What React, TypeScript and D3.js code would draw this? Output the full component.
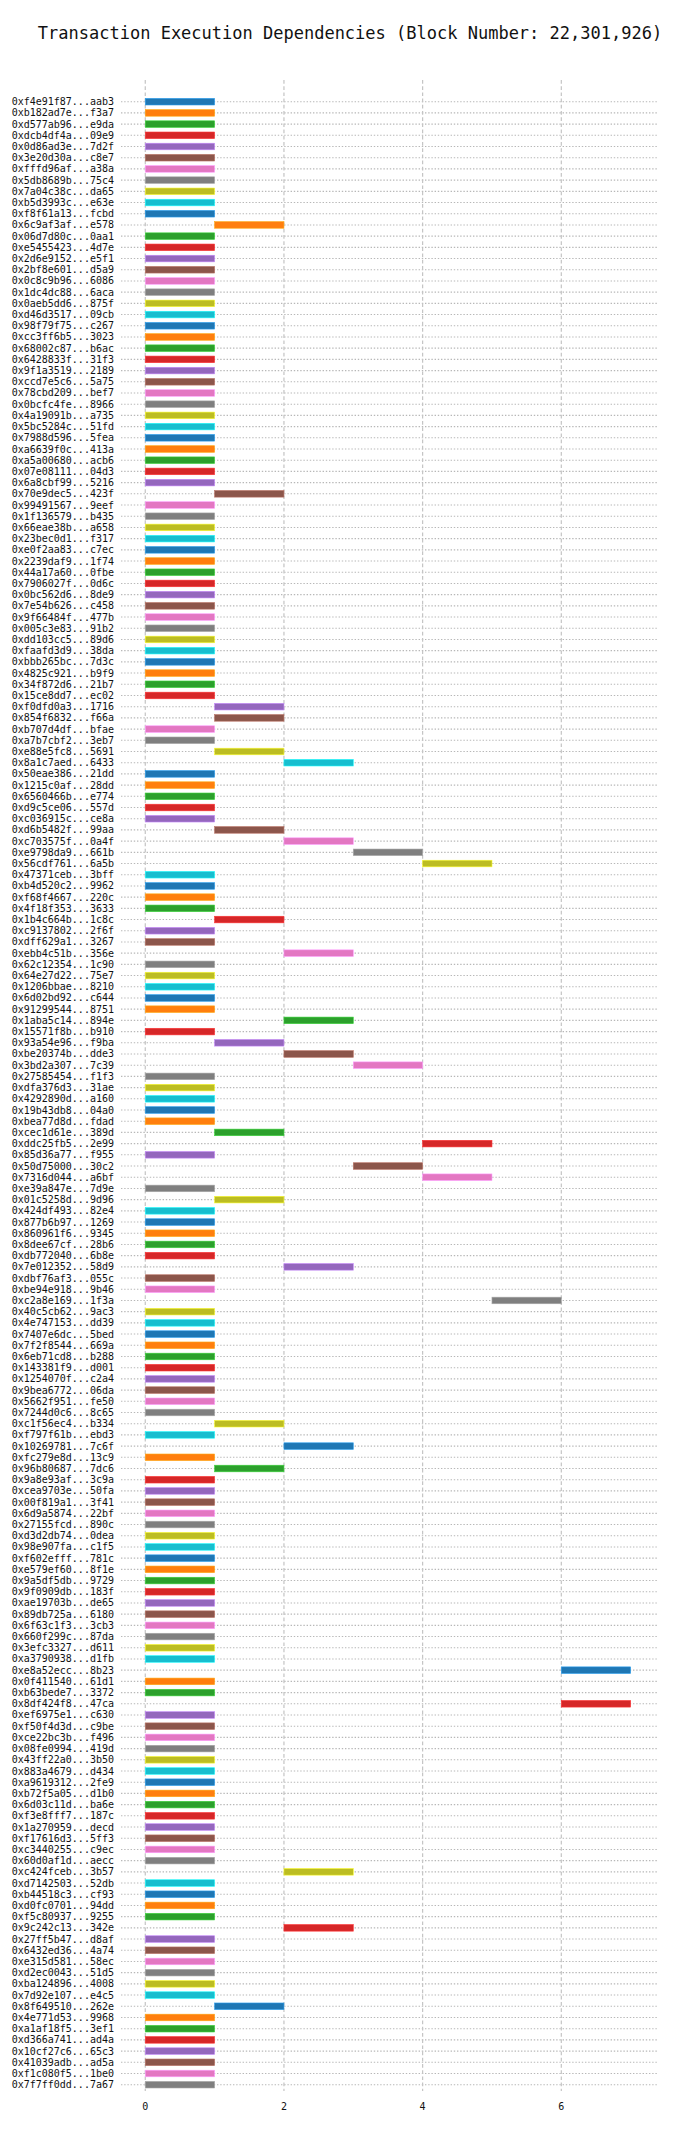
// App.tsx
import React, { useEffect, useRef } from 'react';
import * as d3 from 'd3';

const chartTitle = 'Transaction Execution Dependencies (Block Number: 22,301,926)';

// transaction hashes, top to bottom
const txHashes = [
  '0xf4e91f87...aab3', '0xb182ad7e...f3a7', '0xd577ab96...e9da', '0xdcb4df4a...09e9', '0x0d86ad3e...7d2f',
  '0x3e20d30a...c8e7', '0xfffd96af...a38a', '0x5db8689b...75c4', '0x7a04c38c...da65', '0xb5d3993c...e63e',
  '0xf8f61a13...fcbd', '0x6c9af3af...e578', '0x06d7d80c...0aa1', '0xe5455423...4d7e', '0x2d6e9152...e5f1',
  '0x2bf8e601...d5a9', '0x0c8c9b96...6086', '0x1dc4dc88...6aca', '0x0aeb5dd6...875f', '0xd46d3517...09cb',
  '0x98f79f75...c267', '0xcc3ff6b5...3023', '0x68002c87...b6ac', '0x6428833f...31f3', '0x9f1a3519...2189',
  '0xccd7e5c6...5a75', '0x78cbd209...bef7', '0x0bcfc4fe...8966', '0x4a19091b...a735', '0x5bc5284c...51fd',
  '0x7988d596...5fea', '0xa6639f0c...413a', '0xa5a00680...acb6', '0x07e08111...04d3', '0x6a8cbf99...5216',
  '0x70e9dec5...423f', '0x99491567...9eef', '0x1f136579...b435', '0x66eae38b...a658', '0x23bec0d1...f317',
  '0xe0f2aa83...c7ec', '0x2239daf9...1f74', '0x44a17a60...0fbe', '0x7906027f...0d6c', '0x0bc562d6...8de9',
  '0x7e54b626...c458', '0x9f66484f...477b', '0x005c3e83...91b2', '0xdd103cc5...89d6', '0xfaafd3d9...38da',
  '0xbbb265bc...7d3c', '0x4825c921...b9f9', '0x34f872d6...21b7', '0x15ce8dd7...ec02', '0xf0dfd0a3...1716',
  '0x854f6832...f66a', '0xb707d4df...bfae', '0xa7b7cbf2...3eb7', '0xe88e5fc8...5691', '0x8a1c7aed...6433',
  '0x50eae386...21dd', '0x1215c0af...28dd', '0x6560466b...e774', '0xd9c5ce06...557d', '0xc036915c...ce8a',
  '0xd6b5482f...99aa', '0xc703575f...0a4f', '0xe9798da9...661b', '0x56cdf761...6a5b', '0x47371ceb...3bff',
  '0xb4d520c2...9962', '0xf68f4667...220c', '0x4f18f353...3633', '0x1b4c664b...1c8c', '0xc9137802...2f6f',
  '0xdff629a1...3267', '0xebb4c51b...356e', '0x62c12354...1c90', '0x64e27d22...75e7', '0x1206bbae...8210',
  '0x6d02bd92...c644', '0x91299544...8751', '0x1aba5c14...894e', '0x15571f8b...b910', '0x93a54e96...f9ba',
  '0xbe20374b...dde3', '0x3bd2a307...7c39', '0x27585454...f1f3', '0xdfa376d3...31ae', '0x4292890d...a160',
  '0x19b43db8...04a0', '0xbea77d8d...fdad', '0xcec1d61e...389d', '0xddc25fb5...2e99', '0x85d36a77...f955',
  '0x50d75000...30c2', '0x7316d044...a6bf', '0xe39a847e...7d9e', '0x01c5258d...9d96', '0x424df493...82e4',
  '0x877b6b97...1269', '0x860961f6...9345', '0x8dee67cf...28b6', '0xdb772040...6b8e', '0x7e012352...58d9',
  '0xdbf76af3...055c', '0xbe94e918...9b46', '0xc2a8e169...1f3a', '0x40c5cb62...9ac3', '0x4e747153...dd39',
  '0x7407e6dc...5bed', '0x7f2f8544...669a', '0x6eb71cd8...b288', '0x143381f9...d001', '0x1254070f...c2a4',
  '0x9bea6772...06da', '0x5662f951...fe50', '0x7244d0c6...8c65', '0xc1f56ec4...b334', '0xf797f61b...ebd3',
  '0x10269781...7c6f', '0xfc279e8d...13c9', '0x96b80687...7dc6', '0x9a8e93af...3c9a', '0xcea9703e...50fa',
  '0x00f819a1...3f41', '0x6d9a5874...22bf', '0x27155fcd...890c', '0xd3d2db74...0dea', '0x98e907fa...c1f5',
  '0xf602efff...781c', '0xe579ef60...8f1e', '0x9a5df5db...9729', '0x9f0909db...183f', '0xae19703b...de65',
  '0x89db725a...6180', '0x6f63c1f3...3cb3', '0x660f299c...87da', '0x3efc3327...d611', '0xa3790938...d1fb',
  '0xe8a52ecc...8b23', '0x0f411540...61d1', '0xb63bede7...3372', '0x8df424f8...47ca', '0xef6975e1...c630',
  '0xf50f4d3d...c9be', '0xce22bc3b...f496', '0x08fe0994...419d', '0x43ff22a0...3b50', '0x883a4679...d434',
  '0xa9619312...2fe9', '0xb72f5a05...d1b0', '0x6d03c11d...ba6e', '0xf3e8fff7...187c', '0x1a270959...decd',
  '0xf17616d3...5ff3', '0xc3440255...c9ec', '0x60d0af1d...aecc', '0xc424fceb...3b57', '0xd7142503...52db',
  '0xb44518c3...cf93', '0xd0fc0701...94dd', '0xf5c80937...9255', '0x9c242c13...342e', '0x27ff5b47...d8af',
  '0x6432ed36...4a74', '0xe315d581...58ec', '0xd2ec0043...51d5', '0xba124896...4008', '0x7d92e107...e4c5',
  '0x8f649510...262e', '0x4e771d53...9968', '0xa1af18f5...3ef1', '0xd366a741...ad4a', '0x10cf27c6...65c3',
  '0x41039adb...ad5a', '0xf1c080f5...1be0', '0x7f7ff0dd...7a67',
];

// execution step where each tx starts (same order as txHashes)
const startSteps = [
  0, 0, 0, 0, 0, 0, 0, 0, 0, 0,
  0, 1, 0, 0, 0, 0, 0, 0, 0, 0,
  0, 0, 0, 0, 0, 0, 0, 0, 0, 0,
  0, 0, 0, 0, 0, 1, 0, 0, 0, 0,
  0, 0, 0, 0, 0, 0, 0, 0, 0, 0,
  0, 0, 0, 0, 1, 1, 0, 0, 1, 2,
  0, 0, 0, 0, 0, 1, 2, 3, 4, 0,
  0, 0, 0, 1, 0, 0, 2, 0, 0, 0,
  0, 0, 2, 0, 1, 2, 3, 0, 0, 0,
  0, 0, 1, 4, 0, 3, 4, 0, 1, 0,
  0, 0, 0, 0, 2, 0, 0, 5, 0, 0,
  0, 0, 0, 0, 0, 0, 0, 0, 1, 0,
  2, 0, 1, 0, 0, 0, 0, 0, 0, 0,
  0, 0, 0, 0, 0, 0, 0, 0, 0, 0,
  6, 0, 0, 6, 0, 0, 0, 0, 0, 0,
  0, 0, 0, 0, 0, 0, 0, 0, 2, 0,
  0, 0, 0, 2, 0, 0, 0, 0, 0, 0,
  1, 0, 0, 0, 0, 0, 0, 0,
];

// every tx occupies one step
const stepLength = 1;

const xTicks = [0, 2, 4, 6];

const App = () => {
  const svgRef = useRef(null);

  useEffect(() => {
    const width = 700;
    const height = 2136;
    const svg = d3.select(svgRef.current);
    svg.selectAll('*').remove();
    svg.attr('width', width).attr('height', height).style('background', 'white');

    const plotLeft = 121;
    const plotRight = 657;
    const plotTop = 80;
    const plotBottom = 2091;
    const mono = "'DejaVu Sans Mono', monospace";

    const data = txHashes.map((hash, i) => ({
      hash,
      start: startSteps[i],
      end: startSteps[i] + stepLength,
      color: d3.schemeCategory10[i % 10],
    }));

    const x = d3.scaleLinear().domain([-0.35, 7.38]).range([plotLeft, plotRight]);
    const y = d3.scalePoint().domain(txHashes).range([101.7, 2084.7]);
    const barH = 6.6;

    // title
    svg
      .append('text')
      .attr('x', 350)
      .attr('y', 39)
      .attr('text-anchor', 'middle')
      .attr('font-family', mono)
      .attr('font-size', 17)
      .attr('fill', '#111')
      .text(chartTitle);

    // horizontal dotted grid, one per tx
    svg
      .append('g')
      .selectAll('line')
      .data(txHashes)
      .enter()
      .append('line')
      .attr('x1', plotLeft)
      .attr('x2', plotRight)
      .attr('y1', (d) => y(d))
      .attr('y2', (d) => y(d))
      .attr('stroke', '#b8b8b8')
      .attr('stroke-width', 1.1)
      .attr('stroke-dasharray', '1.4,1.8');

    // vertical dashed grid
    svg
      .append('g')
      .selectAll('line')
      .data(xTicks)
      .enter()
      .append('line')
      .attr('x1', (d) => x(d))
      .attr('x2', (d) => x(d))
      .attr('y1', plotTop)
      .attr('y2', plotBottom)
      .attr('stroke', '#c4c4c4')
      .attr('stroke-width', 1.2)
      .attr('stroke-dasharray', '3.7,2.5');

    // bars
    svg
      .append('g')
      .selectAll('rect')
      .data(data)
      .enter()
      .append('rect')
      .attr('x', (d) => x(d.start))
      .attr('y', (d) => y(d.hash) - barH / 2)
      .attr('width', (d) => x(d.end) - x(d.start))
      .attr('height', barH)
      .attr('fill', (d) => d.color)
      .attr('stroke', (d) => d3.color(d.color).brighter(0.8).formatHex())
      .attr('stroke-width', 0.6);

    // y labels
    svg
      .append('g')
      .selectAll('text')
      .data(txHashes)
      .enter()
      .append('text')
      .attr('x', 114)
      .attr('y', (d) => y(d))
      .attr('dy', '0.35em')
      .attr('text-anchor', 'end')
      .attr('font-family', mono)
      .attr('font-size', 10)
      .attr('fill', '#111')
      .text((d) => d);

    // x tick labels
    svg
      .append('g')
      .selectAll('text')
      .data(xTicks)
      .enter()
      .append('text')
      .attr('x', (d) => x(d))
      .attr('y', 2106)
      .attr('dy', '0.35em')
      .attr('text-anchor', 'middle')
      .attr('font-family', mono)
      .attr('font-size', 10)
      .attr('fill', '#111')
      .text((d) => d);
  }, []);

  return (
    <svg
      ref={svgRef}
      style={{ position: 'absolute', top: 0, left: 0, display: 'block' }}
    ></svg>
  );
};

export default App;
